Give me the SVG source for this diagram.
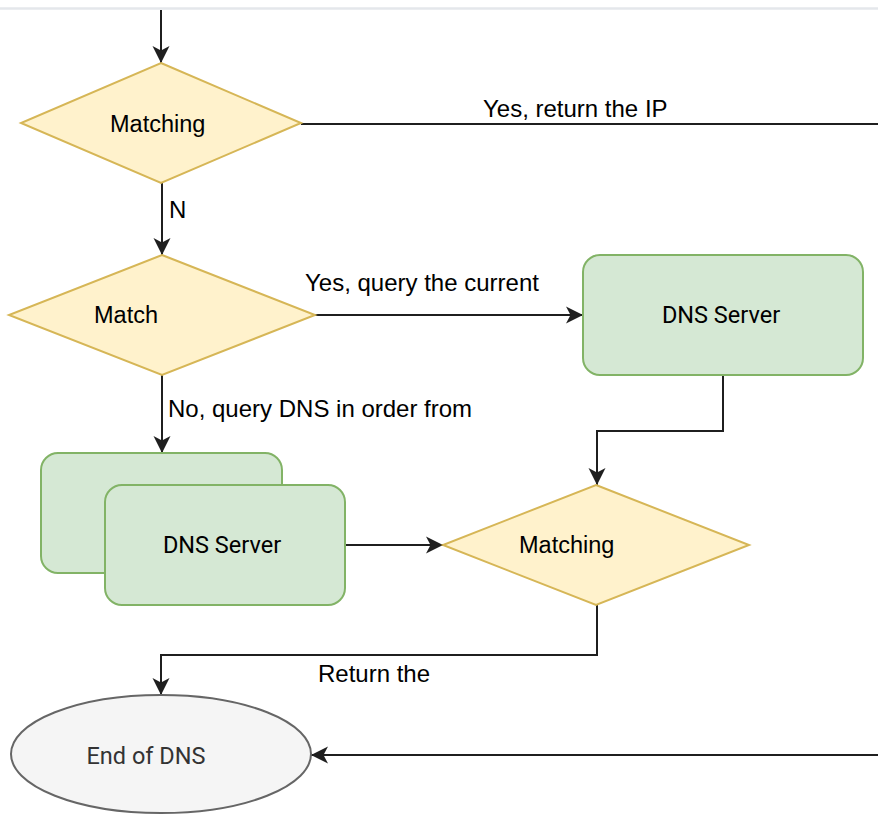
<svg xmlns="http://www.w3.org/2000/svg" width="878" height="814" viewBox="0 0 878 814">
  <style>
    .decision { fill: #fff2cc; stroke: #d6b656; stroke-width: 2; }
    .server { fill: #d5e8d4; stroke: #82b366; stroke-width: 2; }
    .terminal { fill: #f5f5f5; stroke: #666666; stroke-width: 2; }
    .edge { fill: none; stroke: #1f1f1f; stroke-width: 2; }
    .label { font-family: "Liberation Sans", Arial, Helvetica, sans-serif; font-size: 24px; fill: #000000; }
    .node-text { font-family: "Liberation Sans", Arial, Helvetica, sans-serif; font-size: 23.5px; fill: #000000; }
    .server-text { font-family: Roboto, "Liberation Sans", Arial, sans-serif; font-size: 23.5px; fill: #000000; text-anchor: middle; }
    .end-text { font-family: Roboto, "Liberation Sans", Arial, sans-serif; font-size: 23.5px; fill: #333333; text-anchor: middle; }
  </style>
  <defs>
    <marker id="arrow" viewBox="0 0 18 18" refX="17" refY="9" markerWidth="18" markerHeight="18" markerUnits="userSpaceOnUse" orient="auto">
      <path d="M0,0.5 L17,9 L0,17.5 L4.5,9 Z" fill="#1f1f1f"/>
    </marker>
  </defs>

  <rect width="878" height="814" fill="#ffffff"/>
  <!-- page edge -->
  <line x1="0" y1="8.5" x2="878" y2="8.5" stroke="#e4e7eb" stroke-width="2.5"/>

  <!-- connectors -->
  <g id="connectors">
    <path class="edge" d="M161,10 V63" marker-end="url(#arrow)"/>
    <path class="edge" d="M301,124 H878"/>
    <path class="edge" d="M162,183 V255" marker-end="url(#arrow)"/>
    <path class="edge" d="M315,315 H583" marker-end="url(#arrow)"/>
    <path class="edge" d="M162,375 V453" marker-end="url(#arrow)"/>
    <path class="edge" d="M723,375 V431 H597 V485" marker-end="url(#arrow)"/>
    <path class="edge" d="M345,545 H443" marker-end="url(#arrow)"/>
    <path class="edge" d="M597,605 V655 H161 V695" marker-end="url(#arrow)"/>
    <path class="edge" d="M878,755 H311" marker-end="url(#arrow)"/>

    <text class="label" x="483" y="117">Yes, return the IP</text>
    <text class="label" x="169" y="218">N</text>
    <text class="label" x="305" y="291">Yes, query the current</text>
    <text class="label" x="168" y="417">No, query DNS in order from</text>
    <text class="label" x="318" y="682">Return the</text>
  </g>

  <!-- decision: cached match -->
  <g id="matching-cache">
    <polygon class="decision" points="161,63 301,123 161,183 21,123"/>
    <text class="node-text" x="110" y="132">Matching</text>
  </g>

  <!-- decision: forwarder match -->
  <g id="match-forwarder">
    <polygon class="decision" points="162,255 315,315 162,375 9,315"/>
    <text class="node-text" x="94" y="323">Match</text>
  </g>

  <!-- current DNS server -->
  <g id="dns-server-current">
    <rect class="server" x="583" y="255" width="280" height="120" rx="17" ry="17"/>
    <text class="server-text" x="721" y="323">DNS Server</text>
  </g>

  <!-- ordered DNS servers (stacked) -->
  <g id="dns-servers-ordered">
    <rect class="server" x="41" y="453" width="241" height="120" rx="17" ry="17"/>
    <rect class="server" x="105" y="485" width="240" height="120" rx="17" ry="17"/>
    <text class="server-text" x="222" y="553">DNS Server</text>
  </g>

  <!-- decision: server result match -->
  <g id="matching-result">
    <polygon class="decision" points="596,485 749,545 596,605 443,545"/>
    <text class="node-text" x="519" y="553">Matching</text>
  </g>

  <!-- terminal -->
  <g id="end-of-dns">
    <ellipse class="terminal" cx="161" cy="754" rx="150" ry="59"/>
    <text class="end-text" x="146" y="764">End of DNS</text>
  </g>
</svg>
